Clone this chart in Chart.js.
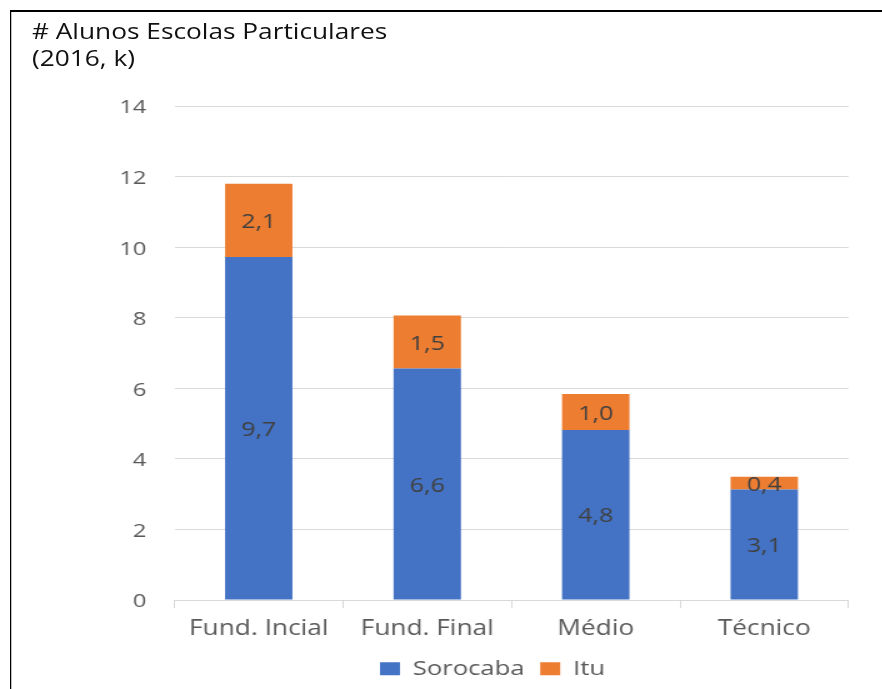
<!DOCTYPE html>
<html>
<head>
<meta charset="utf-8">
<script src="https://cdn.jsdelivr.net/npm/chart.js@4.4.0/dist/chart.umd.min.js"></script>
<style>
  html, body { margin: 0; padding: 0; background: #fff; overflow: hidden; width: 882px; height: 689px; }
  #stage { position: absolute; left: 0; top: 0; width: 705.6px; height: 689px;
           transform: scaleX(1.25); transform-origin: 0 0; }
  #frame { position: absolute; left: 8px; top: 10px; width: 760px; height: 700px;
           border-top: 2px solid #000; border-left: 1.6px solid #000; }
  #title { position: absolute; left: 25.6px; top: 18px; font-family: "Open Sans", sans-serif;
           font-size: 21px; line-height: 27px; color: #111; white-space: nowrap; }
  #wrap { position: absolute; left: 9.6px; top: 12px; width: 696px; height: 677px; }
</style>
</head>
<body>
<div id="stage">
<div id="frame"></div>
<div id="title"># Alunos Escolas Particulares<br>(2016, k)</div>
<div id="wrap"><canvas id="c"></canvas></div>
</div>
<script>
const categories = ["Fund. Incial", "Fund. Final", "Médio", "Técnico"];
const sorocaba = [9.72, 6.56, 4.82, 3.13];
const itu = [2.08, 1.5, 1.02, 0.36];
const yTicks = [0, 2, 4, 6, 8, 10, 12, 14];

const FONT = "Open Sans";

const valueLabels = {
  id: "valueLabels",
  afterDatasetsDraw(chart) {
    const ctx = chart.ctx;
    ctx.save();
    ctx.font = "20px '" + FONT + "'";
    ctx.fillStyle = "#404040";
    ctx.textAlign = "center";
    ctx.textBaseline = "middle";
    chart.data.datasets.forEach((ds, i) => {
      const meta = chart.getDatasetMeta(i);
      meta.data.forEach((el, j) => {
        const v = ds.data[j];
        const txt = v.toFixed(1).replace(".", ",");
        ctx.fillText(txt, el.x, (el.y + el.base) / 2 + 2);
      });
    });
    ctx.restore();
  }
};

const legendShift = {
  id: "legendShift",
  afterLayout(chart) {
    const lg = chart.legend;
    if (lg) { lg.left += 49.6; lg.right += 49.6; }
  }
};

new Chart(document.getElementById("c"), {
  type: "bar",
  data: {
    labels: categories,
    datasets: [
      { label: "Sorocaba", data: sorocaba, backgroundColor: "#4472C4" },
      { label: "Itu", data: itu, backgroundColor: "#ED7D31" }
    ]
  },
  options: {
    responsive: true,
    maintainAspectRatio: false,
    animation: false,
    layout: { padding: { top: 94, left: 0, right: 27.2, bottom: 0 } },
    datasets: { bar: { barPercentage: 0.4, categoryPercentage: 1.0 } },
    plugins: {
      legend: {
        position: "bottom",
        labels: { boxWidth: 16, boxHeight: 13, padding: 12.5, color: "#595959",
                  font: { family: FONT, size: 20.5 } }
      },
      tooltip: { enabled: false },
      title: { display: false }
    },
    scales: {
      x: {
        stacked: true,
        grid: { drawOnChartArea: false, drawTicks: true, tickLength: 8, color: "#d9d9d9" },
        border: { color: "#d9d9d9" },
        ticks: { color: "#595959", font: { family: FONT, size: 21 }, padding: 8 },
        afterFit(s) { s.height = 46; }
      },
      y: {
        stacked: true,
        min: 0, max: 14,
        afterBuildTicks(s) { s.ticks = yTicks.map(v => ({ value: v })); },
        grid: { color: "#d9d9d9", drawTicks: false },
        border: { display: false },
        ticks: { color: "#595959", font: { family: FONT, size: 19 }, padding: 22.4, labelOffset: 2 },
        afterFit(s) { s.width = 129.6; }
      }
    }
  },
  plugins: [valueLabels, legendShift]
});
</script>
</body>
</html>
